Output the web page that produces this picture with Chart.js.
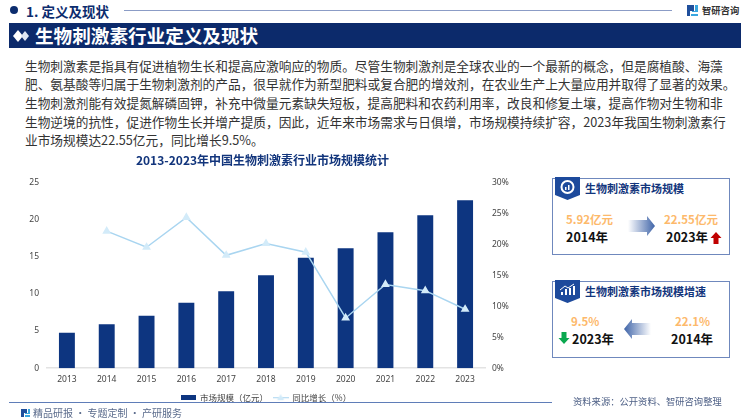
<!DOCTYPE html>
<html lang="zh">
<head>
<meta charset="utf-8">
<title>生物刺激素行业定义及现状</title>
<script src="https://cdn.jsdelivr.net/npm/chart.js@4"></script>
<style>
  html, body { margin: 0; padding: 0; background: #fff; }
  body { position: relative; width: 750px; height: 420px; overflow: hidden; font-family: "Noto Sans CJK SC", "Noto Sans", sans-serif; }
  .abs { position: absolute; white-space: nowrap; }
  .body-text { left: 25px; top: 56.5px; font-size: 12.7px; line-height: 18.7px; color: #333; }
  .kpi-box { position: absolute; left: 552px; width: 176px; border: 1px solid #6f88bd; box-sizing: content-box; }
  .kpi-title { font-size: 11px; font-weight: 700; color: #12357c; line-height: 14px; }
  .kpi-value { font-size: 11.5px; font-weight: 700; color: #fdb96b; line-height: 14px; }
  .kpi-year { font-size: 12.5px; font-weight: 700; color: #111; line-height: 16px; }
</style>
</head>
<body>

<!-- header -->
<svg class="abs" style="left:9px;top:5px" width="10" height="10"><circle cx="5" cy="5" r="4" fill="#0c2c6e"/></svg>
<div class="abs" style="left:26px;top:1px;font-size:13.5px;font-weight:700;color:#0c2c6e;line-height:20px">1. 定义及现状</div>
<div class="abs" style="left:124px;top:10px;width:548px;height:1px;background:#8b9cc6"></div>
<svg class="abs" style="left:687px;top:4px" width="12" height="13">
  <path d="M0 1h7v6H3v5H0z" fill="#1f4f9c"/><path d="M8 1h3v7H5v-1h3z M4 10h7v2H4z" fill="#39a6df"/>
</svg>
<div class="abs" style="left:702px;top:2px;font-size:9.300px;font-weight:700;color:#333;line-height:16px">智研咨询</div>

<div class="abs" style="left:9px;top:23px;width:732px;height:25px;background:#0c2a6b"></div>
<svg class="abs" style="left:12px;top:29px" width="18" height="14">
  <path d="M6 1l5 6-5 6-5-6z" fill="#fff"/><path d="M13 2l4 5-4 5-4-5z" fill="#dfe6f2"/>
</svg>
<div class="abs" style="left:35px;top:22px;font-size:18.6px;font-weight:700;color:#fff;line-height:26px">生物刺激素行业定义及现状</div>

<div class="abs body-text">生物刺激素是指具有促进植物生长和提高应激响应的物质。尽管生物刺激剂是全球农业的一个最新的概念，但是腐植酸、海藻<br>肥、氨基酸等归属于生物刺激剂的产品，很早就作为新型肥料或复合肥的增效剂，在农业生产上大量应用并取得了显著的效果。<br>生物刺激剂能有效提氮解磷固钾，补充中微量元素缺失短板，提高肥料和农药利用率，改良和修复土壤，提高作物对生物和非<br>生物逆境的抗性，促进作物生长并增产提质，因此，近年来市场需求与日俱增，市场规模持续扩容，2023年我国生物刺激素行<br>业市场规模达22.55亿元，同比增长9.5%。</div>

<!-- chart -->
<div class="abs" style="left:0;top:150px;width:525px;height:262px"><canvas id="marketChart"></canvas></div>

<!-- top KPI box -->
<div class="kpi-box" style="top:178px;height:75px"></div>
<svg class="abs" style="left:555px;top:177px" width="26" height="25">
  <path d="M0 0h25v18l-12.500 5L0 18z" fill="#1d4a9c"/>
  <circle cx="12.500" cy="10" r="6" fill="none" stroke="#fff" stroke-width="2"/>
  <path d="M10 13v-3h1.500v3zM13 13V8h1.500v5z" fill="#fff"/>
</svg>
<div class="abs kpi-title" style="left:585px;top:181px">生物刺激素市场规模</div>
<div class="abs kpi-value" style="left:566px;top:212px">5.92亿元</div>
<div class="abs kpi-year" style="left:566px;top:229px">2014年</div>
<svg class="abs" style="left:628px;top:215px" width="28" height="22">
  <defs><linearGradient id="arrowRight" x1="0" x2="1" y1="0" y2="0"><stop offset="0" stop-color="#fff"/><stop offset="1" stop-color="#3f64a8"/></linearGradient></defs>
  <path d="M0 5h19V1l8 10-8 10v-4H0z" fill="url(#arrowRight)"/>
</svg>
<div class="abs kpi-value" style="left:664px;top:212px">22.55亿元</div>
<div class="abs kpi-year" style="left:666px;top:229px">2023年</div>
<svg class="abs" style="left:710px;top:232px" width="12" height="12"><path d="M6 0l5.500 6H8.500v6h-5V6H.500z" fill="#c00000"/></svg>

<!-- bottom KPI box -->
<div class="kpi-box" style="top:281px;height:75px"></div>
<svg class="abs" style="left:555px;top:280px" width="26" height="25">
  <path d="M0 0h25v18l-12.500 5L0 18z" fill="#1d4a9c"/>
  <path d="M6 15v-3h2v3zM10 15V9h2v6zM14 15V8h2v7zM18 15V6h2v9z" fill="#fff"/>
  <path d="M5 10l5-4 3 2 6-4" fill="none" stroke="#fff" stroke-width="1"/>
</svg>
<div class="abs kpi-title" style="left:585px;top:284px">生物刺激素市场规模增速</div>
<div class="abs kpi-value" style="left:571px;top:314px">9.5%</div>
<div class="abs kpi-value" style="left:675px;top:314px">22.1%</div>
<div class="abs kpi-year" style="left:572px;top:331px">2023年</div>
<div class="abs kpi-year" style="left:671px;top:331px">2014年</div>
<svg class="abs" style="left:623px;top:318px" width="28" height="22">
  <defs><linearGradient id="arrowLeft" x1="0" x2="1" y1="0" y2="0"><stop offset="0" stop-color="#3f64a8"/><stop offset="1" stop-color="#fff"/></linearGradient></defs>
  <path d="M28 5H9V1L1 11l8 10v-4h19z" fill="url(#arrowLeft)"/>
</svg>
<svg class="abs" style="left:558px;top:332px" width="12" height="12"><path d="M6 12L.500 6h3V0h5v6h3z" fill="#0aa84f"/></svg>

<!-- footer -->
<div class="abs" style="left:9px;top:402px;width:543px;height:1px;background:#5f7db8"></div>
<svg class="abs" style="left:21px;top:408px" width="10" height="10">
  <path d="M0 1h6v4H3v4H0z" fill="#1f4f9c"/><path d="M7 1h2v5H4V5h3zM4 7h5v2H4z" fill="#39a6df"/>
</svg>
<div class="abs" style="left:33px;top:405px;font-size:10px;color:#5a6b8c;line-height:15px">精品研报 · 专题定制 · 产研服务</div>
<div class="abs" style="left:573px;top:394px;font-size:9.3px;color:#4d5f85;line-height:14px">资料来源：公开资料、智研咨询整理</div>

<script>
// chart data
const years = ['2013', '2014', '2015', '2016', '2017', '2018', '2019', '2020', '2021', '2022', '2023'];
const marketSize = [4.77, 5.92, 7.03, 8.78, 10.35, 12.48, 14.84, 16.1, 18.27, 20.55, 22.55];
const growthRate = [null, 22.1, 19.5, 24.3, 18.2, 20.1, 18.7, 8.1, 13.5, 12.5, 9.5];

const barColor = '#0d3580';
const lineColor = '#a9d5f0';
const markerColor = '#d3ebf9';
const tickColor = '#444';
const tickFont = { family: '"Noto Sans", "Noto Sans CJK SC", sans-serif', size: 8.5 };

// small swatches for the legend
function barSwatch() {
    const c = document.createElement('canvas');
    c.width = 15; c.height = 5;
    const ctx = c.getContext('2d');
    ctx.fillStyle = barColor;
    ctx.fillRect(0, 0, 15, 5);
    return c;
}

function lineSwatch() {
    const c = document.createElement('canvas');
    c.width = 16; c.height = 7;
    const ctx = c.getContext('2d');
    ctx.fillStyle = lineColor;
    ctx.fillRect(0, 3, 16, 1);
    ctx.fillStyle = markerColor;
    ctx.beginPath();
    ctx.moveTo(8, 0); ctx.lineTo(11.5, 6); ctx.lineTo(4.5, 6);
    ctx.fill();
    return c;
}

new Chart(document.getElementById('marketChart'), {
    type: 'bar',
    data: {
        labels: years,
        datasets: [{
            label: '市场规模（亿元）',
            data: marketSize,
            backgroundColor: barColor,
            categoryPercentage: 1,
            barPercentage: 0.4,
            yAxisID: 'y',
            order: 2
        }, {
            type: 'line',
            label: '同比增长（%）',
            data: growthRate,
            borderColor: lineColor,
            borderWidth: 1.5,
            backgroundColor: markerColor,
            pointStyle: 'triangle',
            pointRadius: 3.6,
            pointBorderColor: markerColor,
            tension: 0,
            spanGaps: false,
            yAxisID: 'y2',
            order: 1
        }]
    },
    options: {
        responsive: true,
        maintainAspectRatio: false,
        animation: false,
        layout: { padding: 0 },
        plugins: {
            tooltip: { enabled: false },
            title: {
                display: true,
                text: '2013-2023年中国生物刺激素行业市场规模统计',
                color: '#12357c',
                font: { family: '"Noto Sans CJK SC", sans-serif', size: 12, weight: '700' },
                padding: { top: 3, bottom: 14.700 }
            },
            legend: {
                position: 'bottom',
                fullSize: false,
                labels: {
                    usePointStyle: true,
                    pointStyleWidth: 15,
                    color: '#444',
                    font: { family: '"Noto Sans CJK SC", sans-serif', size: 8.5 },
                    padding: 5,
                    boxHeight: 6,
                    generateLabels: chart => chart.data.datasets.map((d, i) => ({
                        text: d.label,
                        fontColor: '#444',
                        pointStyle: i === 0 ? barSwatch() : lineSwatch(),
                        datasetIndex: i,
                        lineWidth: 0
                    }))
                }
            }
        },
        scales: {
            x: {
                grid: { display: false, drawTicks: false },
                border: { color: '#e3e3e3', width: 1.5 },
                ticks: { color: tickColor, font: tickFont, padding: 6, maxRotation: 0 },
                afterFit: scale => { scale.height = 20.3; }
            },
            y: {
                min: 0,
                max: 25,
                grid: { display: false, drawTicks: false },
                border: { display: false },
                ticks: { stepSize: 5, color: tickColor, font: tickFont, padding: 8 },
                afterFit: scale => { scale.width = 47; }
            },
            y2: {
                position: 'right',
                min: 0,
                max: 30,
                grid: { display: false, drawTicks: false },
                border: { display: false },
                ticks: { stepSize: 5, color: tickColor, font: tickFont, padding: 7, callback: v => v + '%' },
                afterFit: scale => { scale.width = 40; }
            }
        }
    }
});
</script>
</body>
</html>
